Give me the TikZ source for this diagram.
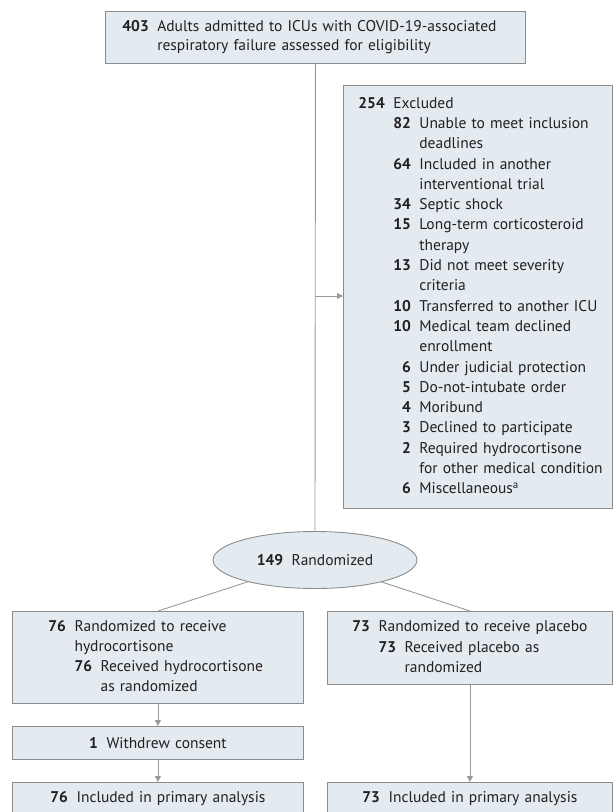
\documentclass[tikz,border=0pt]{standalone}
\usepackage{fontspec}
\setmainfont{PT Sans}
\usepackage{xcolor}
\usetikzlibrary{shapes.geometric, arrows.meta}

\definecolor{boxfill}{HTML}{E4EBF0}
\definecolor{boxdraw}{HTML}{8C8C8C}
\definecolor{linegray}{HTML}{999999}
\definecolor{inkgray}{HTML}{231F20}

%bold count in front of each entry
\newcommand{\cnt}[1]{\textbf{#1}}
%hanging list: count, then text
\newenvironment{counts}{\begin{tabular}[t]{@{}r@{\hspace{8.5pt}}l@{}}}{\end{tabular}}

\begin{document}
\begin{tikzpicture}[x=1pt, y=-1pt,
		flowbox/.style={draw=boxdraw, fill=boxfill, line width=0.9pt, anchor=north west, inner xsep=0pt, inner ysep=0pt, align=left, text=inkgray, font=\fontsize{15.5}{20.3}\selectfont},
		flowline/.style={draw=linegray, line width=0.9pt},
		flowarrow/.style={flowline, -{Triangle[length=6pt, width=6pt]}}]
		
		%page frame
		\useasboundingbox (0,0) rectangle (614,812);
		\clip (0,0) rectangle (614,812);
		
		%screening
		\node[flowbox, text width=420pt, minimum height=52pt, font=\fontsize{15.5}{18.5}\selectfont] (screened) at (105,11)
			{\hspace*{17pt}\begin{counts}\cnt{403} & Adults admitted to ICUs with COVID-19-associated\\ & respiratory failure assessed for eligibility\end{counts}};
		
		%exclusions
		\node[flowbox, text width=269pt, minimum height=423pt] (excluded) at (343,85)
			{\hspace*{15pt}\begin{counts}\cnt{254} & Excluded\\
				& \begin{counts}
					\cnt{82} & Unable to meet inclusion\\ & deadlines\\
					\cnt{64} & Included in another\\ & interventional trial\\
					\cnt{34} & Septic shock\\
					\cnt{15} & Long-term corticosteroid\\ & therapy\\
					\cnt{13} & Did not meet severity\\ & criteria\\
					\cnt{10} & Transferred to another ICU\\
					\cnt{10} & Medical team declined\\ & enrollment\\
					\cnt{6} & Under judicial protection\\
					\cnt{5} & Do-not-intubate order\\
					\cnt{4} & Moribund\\
					\cnt{3} & Declined to participate\\
					\cnt{2} & Required hydrocortisone\\ & for other medical condition\\
					\cnt{6} & Miscellaneous\textsuperscript{a}
				\end{counts}\end{counts}};
		
		%randomization
		\node[draw=boxdraw, fill=boxfill, line width=0.9pt, ellipse, minimum width=204pt, minimum height=57pt, inner sep=0pt, text=inkgray, font=\fontsize{15.5}{20}\selectfont] (randomized) at (315,560)
			{\cnt{149}\hspace{8.5pt}Randomized};
		
		%arms
		\node[flowbox, text width=291pt, minimum height=92pt] (hcarm) at (12,611)
			{\hspace*{36pt}\begin{counts}\cnt{76} & Randomized to receive\\ & hydrocortisone\\
				& \begin{counts}\cnt{76} & Received hydrocortisone\\ & as randomized\end{counts}\end{counts}};
		\node[flowbox, text width=285pt, minimum height=73pt] (pbarm) at (327,611)
			{\hspace*{25pt}\begin{counts}\cnt{73} & Randomized to receive placebo\\
				& \begin{counts}\cnt{73} & Received placebo as\\ & randomized\end{counts}\end{counts}};
		
		\node[flowbox, text width=291pt, minimum height=33pt, align=center] (withdrew) at (12,726)
			{\cnt{1}\hspace{8.5pt}Withdrew consent};
		
		%analysis
		\node[flowbox, text width=291pt, minimum height=32pt, align=center] (hcfinal) at (12,782)
			{\cnt{76}\hspace{8.5pt}Included in primary analysis};
		\node[flowbox, text width=285pt, minimum height=32pt, align=center] (pbfinal) at (327,782)
			{\cnt{73}\hspace{8.5pt}Included in primary analysis};
		
		%connectors
		\coordinate (exclsplit) at (315,296);
		\draw[flowline] (screened.south) -- (randomized.north);
		\draw[flowarrow] (exclsplit) -- (exclsplit -| excluded.west);
		\draw[flowline] (randomized) -- (hcarm.north);
		\draw[flowline] (randomized) -- (pbarm.north);
		\draw[flowarrow] (hcarm.south) -- (withdrew.north);
		\draw[flowarrow] (withdrew.south) -- (hcfinal.north);
		\draw[flowarrow] (pbarm.south) -- (pbfinal.north);
		
	\end{tikzpicture}
\end{document}
